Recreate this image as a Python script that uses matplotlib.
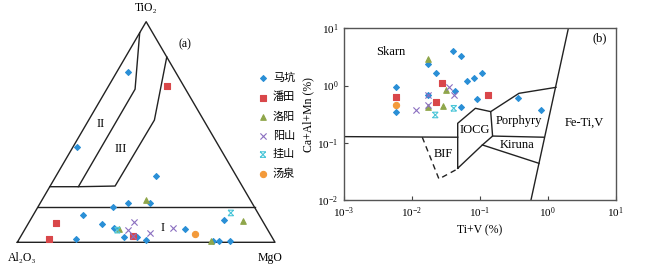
import numpy as np
import matplotlib
matplotlib.use("Agg")
import matplotlib.pyplot as plt
from matplotlib.path import Path
from matplotlib.ticker import LogLocator, NullLocator

plt.rcParams['font.family'] = ['Liberation Serif', 'Noto Sans CJK SC']
plt.rcParams['mathtext.fontset'] = 'stix'

# 挂山 marker: X with bars top and bottom
hourglass = Path([(-1, 1), (1, -1), (-1, -1), (1, 1), (-1, 1), (1, 1), (-1, -1), (1, -1)],
                 [Path.MOVETO, Path.LINETO, Path.MOVETO, Path.LINETO,
                  Path.MOVETO, Path.LINETO, Path.MOVETO, Path.LINETO])

# ---------- data ----------
groups = ["马坑", "潘田", "洛阳", "阳山", "挂山", "汤泉"]
markers = ["D", "s", "^", "x", hourglass, "o"]
colors = ["#2a8fd6", "#d9474a", "#8fa64a", "#8b6fc0", "#4cc6d8", "#f39a3a"]
sizes = [9, 22, 16, 20, 16, 20]

# (a) ternary: TiO2, MgO fractions (Al2O3 = rest)
tern_ti = [
    [0.77, 0.43, 0.30, 0.18, 0.176, 0.158, 0.123, 0.085, 0.067, 0.023, 0.026,
     0.012, 0.015, 0.062, 0.101, 0.005, 0.005, 0.005],
    [0.71, 0.088, 0.015, 0.029],
    [0.19, 0.062, 0.097, 0.006],
    [0.092, 0.055, 0.044, 0.067, 0.03],
    [0.133, 0.055],
    [0.036],
]
tern_mg = [
    [0.044, 0.018, 0.388, 0.338, 0.426, 0.293, 0.193, 0.288, 0.341, 0.404, 0.452,
     0.494, 0.22, 0.62, 0.751, 0.782, 0.824, 0.758],
    [0.225, 0.106, 0.115, 0.434],
    [0.403, 0.362, 0.826, 0.748],
    [0.405, 0.404, 0.491, 0.57, 0.434],
    [0.762, 0.361],
    [0.673],
]

# (b) Ti+V vs Ca+Al+Mn (%)
tiv = [
    [0.00583, 0.00583, 0.0171, 0.0171, 0.0224, 0.0408, 0.0528, 0.064, 0.081,
     0.106, 0.0436, 0.0898, 0.0523, 0.36, 0.794],
    [0.00583, 0.028, 0.0229, 0.1334],
    [0.0171, 0.0318, 0.0171, 0.029],
    [0.0347, 0.0412, 0.0171, 0.0171, 0.0116],
    [0.0221, 0.0412],
    [0.00583],
]
caalmn = [
    [0.93, 0.345, 2.35, 0.69, 1.68, 4.07, 3.33, 1.22, 1.34, 1.68, 0.815, 0.582,
     0.427, 0.615, 0.374],
    [0.63, 1.09, 0.516, 0.675],
    [2.87, 0.826, 0.417, 0.445],
    [0.93, 0.684, 0.675, 0.457, 0.379],
    [0.306, 0.4],
    [0.464],
]


def tern_xy(t, m):
    t = np.asarray(t, float); m = np.asarray(m, float)
    return m + t / 2, t * np.sqrt(3) / 2


def mstyle(mk, c):
    # 线状 marker 只描边
    if mk is hourglass:
        return dict(facecolors="none", edgecolors=c)
    return dict(color=c)


fig = plt.figure(figsize=(6.72, 2.66), dpi=100)

# ---------- (a) ternary ----------
H = np.sqrt(3) / 2
a1 = fig.add_axes([17.3 / 672, (266 - 242.3) / 266, 257.7 / 672, 220.6 / 266])
a1.set_xlim(0, 1); a1.set_ylim(0, H); a1.axis("off")
lk = dict(color="#222222", lw=1.0, clip_on=False)
x, y = tern_xy([0, 0, 1, 0], [0, 1, 0, 0])
a1.plot(x, y, **lk)
x, y = tern_xy([0.159, 0.159], [0, 0.841])
a1.plot(x, y, **lk)
x, y = tern_xy([0.95, 0.694, 0.252, 0.252], [0, 0.11, 0.111, 0])
a1.plot(x, y, **lk)
x, y = tern_xy([0.84, 0.554, 0.255, 0.252], [0.16, 0.255, 0.252, 0.111])
a1.plot(x, y, **lk)
for t, m, s in [(0.535, 0.055, "II"), (0.425, 0.19, "III"), (0.066, 0.53, "I")]:
    x, y = tern_xy(t, m)
    a1.text(x, y, s, ha="center", va="center", fontsize=9)
a1.text(0.5, H + 0.03, "TiO₂", ha="center", va="bottom", fontsize=8.5)
a1.text(0.02, -0.04, "Al₂O₃", ha="center", va="top", fontsize=8.5)
a1.text(0.98, -0.04, "MgO", ha="center", va="top", fontsize=8.5)
a1.text(0.65, H - 0.09, "(a)", ha="center", va="center", fontsize=8.5)
for g, t, m, mk, c, s in zip(groups, tern_ti, tern_mg, markers, colors, sizes):
    x, y = tern_xy(t, m)
    a1.scatter(x, y, marker=mk, s=s, lw=0.8, label=g, zorder=3, clip_on=False, **mstyle(mk, c))
leg = a1.legend(loc="upper left", bbox_to_anchor=(0.91, 0.79), frameon=False,
                fontsize=8, handletextpad=0.3, labelspacing=0.8, borderaxespad=0,
                handlelength=1.2)
for t in leg.get_texts():
    t.set_family(['Noto Sans CJK SC'])

# ---------- (b) log-log ----------
a2 = fig.add_axes([344 / 672, (266 - 200) / 266, 271.7 / 672, 171.7 / 266])
a2.set_xscale("log"); a2.set_yscale("log")
a2.set_xlim(1e-3, 1e1); a2.set_ylim(1e-2, 1e1)
bk = dict(color="#222222", lw=1.0)
a2.plot([1e-3, 0.0472], [0.128, 0.125], **bk)
a2.plot([0.0142, 0.025, 0.0456], [0.125, 0.0233, 0.0343], color="#222222", lw=1.0, ls=(0, (4, 3)))
a2.plot([0.0472, 0.0472, 0.086, 0.1445, 0.154, 0.109, 0.0472],
        [0.0358, 0.219, 0.4, 0.35, 0.131, 0.0916, 0.0358], **bk)
a2.plot([0.1445, 0.377, 1.32], [0.35, 0.731, 0.93], **bk)
a2.plot([2.01, 0.566], [10, 0.01], **bk)
a2.plot([0.154, 0.87], [0.131, 0.125], **bk)
a2.plot([0.109, 0.743], [0.0916, 0.0437], **bk)
for s, xx, yy in [("Skarn", 0.00486, 3.9), ("Porphyry", 0.377, 0.244), ("IOCG", 0.085, 0.168),
                  ("BIF", 0.029, 0.0637), ("Kiruna", 0.356, 0.0903), ("Fe-Ti,V", 3.42, 0.225),
                  ("(b)", 5.76, 6.7)]:
    a2.text(xx, yy, s, ha="center", va="center", fontsize=9)
for g, xv, yv, mk, c, s in zip(groups, tiv, caalmn, markers, colors, sizes):
    a2.scatter(xv, yv, marker=mk, s=s, lw=0.8, zorder=3, **mstyle(mk, c))
a2.xaxis.set_major_locator(LogLocator(base=10, numticks=10))
a2.yaxis.set_major_locator(LogLocator(base=10, numticks=10))
a2.xaxis.set_minor_locator(NullLocator()); a2.yaxis.set_minor_locator(NullLocator())
a2.tick_params(direction="in", length=3, width=0.8, labelsize=8, color="#444444", pad=4)
for sp in a2.spines.values():
    sp.set_color("#555555"); sp.set_linewidth(1.0)
a2.set_xlabel("Ti+V (%)", fontsize=8.5, labelpad=3)
a2.set_ylabel("Ca+Al+Mn (%)", fontsize=8.5, labelpad=2)

fig.savefig("out.png", dpi=100)
